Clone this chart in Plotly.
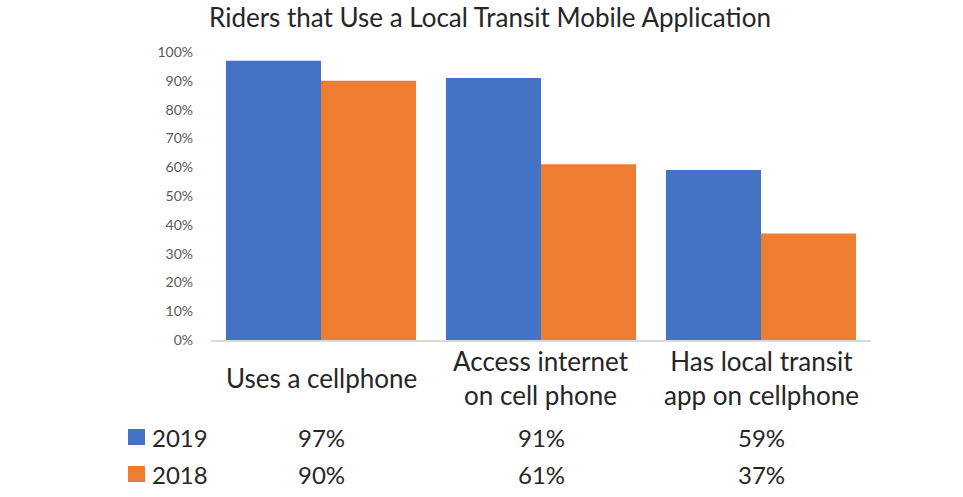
import plotly.graph_objects as go

# Survey responses by year
categories = ["Uses a cellphone", "Access internet<br>on cell phone", "Has local transit<br>app on cellphone"]
years = ["2019", "2018"]
values_2019 = [0.97, 0.91, 0.59]
values_2018 = [0.90, 0.61, 0.37]
colors = ["#4472C4", "#ED7D31"]
y_ticks = [i / 10 for i in range(11)]

FONT = "Lato"
TEXT = "#262626"
W, H = 963, 497
L, R, T, B = 211, 92, 52, 157
plot_w, plot_h = W - L - R, H - T - B


def py(px):
    """Pixel row -> paper y."""
    return (H - B - px) / plot_h


def px_x(px):
    """Pixel column -> paper x."""
    return (px - L) / plot_w


fig = go.Figure()
for name, vals, col in zip(years, [values_2019, values_2018], colors):
    fig.add_trace(go.Bar(x=categories, y=vals, name=name, marker=dict(color=col, line=dict(width=0))))

annotations = []
# category labels under the axis
for cat in categories:
    annotations.append(dict(x=cat, xref="x", y=py(378), yref="paper", text=cat, showarrow=False,
                            xanchor="center", yanchor="middle",
                            font=dict(family=FONT, size=26, color=TEXT)))

shapes = []
# data table rows with legend keys
row_y = [437, 474]
for name, vals, col, ry in zip(years, [values_2019, values_2018], colors, row_y):
    shapes.append(dict(type="rect", xref="paper", yref="paper",
                       x0=px_x(128), x1=px_x(145), y0=py(ry - 8), y1=py(ry + 8),
                       fillcolor=col, line=dict(width=0)))
    annotations.append(dict(x=px_x(150), xref="paper", y=py(ry), yref="paper", text=name,
                            showarrow=False, xanchor="left", yanchor="middle",
                            font=dict(family=FONT, size=24, color=TEXT)))
    for cat, v in zip(categories, vals):
        annotations.append(dict(x=cat, xref="x", y=py(ry), yref="paper", text=f"{v:.0%}",
                                showarrow=False, xanchor="center", yanchor="middle",
                                font=dict(family=FONT, size=24, color=TEXT)))

fig.update_layout(
    width=W, height=H,
    margin=dict(l=L, r=R, t=T, b=B),
    paper_bgcolor="white", plot_bgcolor="white",
    barmode="group", bargap=0.136, bargroupgap=0,
    showlegend=False,
    title=dict(text="Riders that Use a Local Transit Mobile Application", x=490 / W, xanchor="center",
               y=1 - 18 / H, yanchor="middle", font=dict(family=FONT, size=26, color=TEXT)),
    xaxis=dict(showticklabels=False, showline=True, linecolor="#D9D9D9", linewidth=1.5,
               ticks="", showgrid=False, zeroline=False),
    yaxis=dict(range=[0, 1], tickvals=y_ticks, tickformat=".0%", showgrid=False, zeroline=False,
               showline=False, ticks="", ticklabelstandoff=17,
               tickfont=dict(family=FONT, size=14, color="#595959")),
    annotations=annotations, shapes=shapes,
)

fig.write_html("out.html")
